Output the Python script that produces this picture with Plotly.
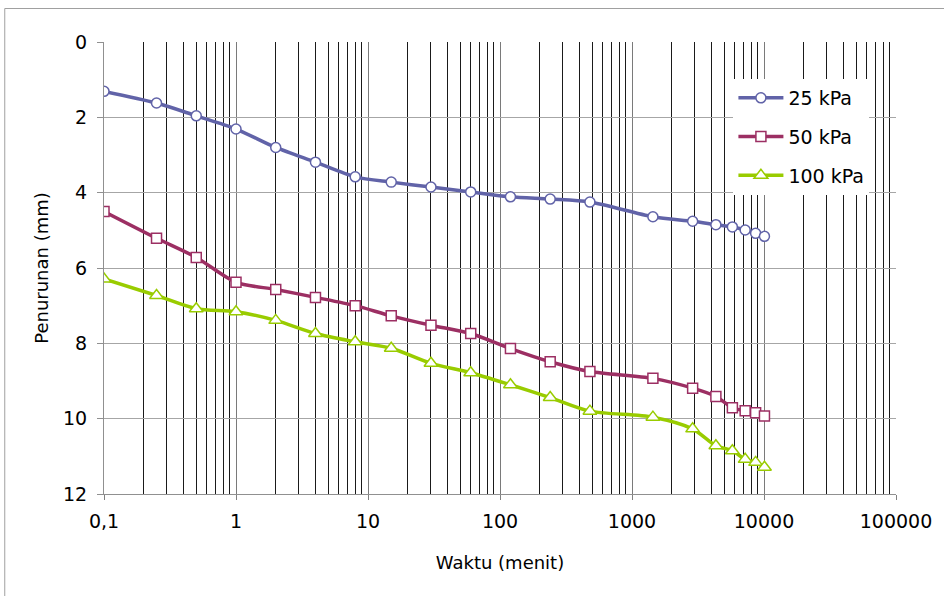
import plotly.graph_objects as go

waktu = [0.1, 0.25, 0.5, 1, 2, 4, 8, 15, 30, 60, 120, 240, 480, 1440, 2880, 4320, 5760, 7200, 8640, 10080]
s25 = [1.31, 1.62, 1.96, 2.31, 2.80, 3.19, 3.58, 3.72, 3.85, 3.98, 4.11, 4.17, 4.25, 4.64, 4.76, 4.85, 4.91, 4.99, 5.08, 5.16]
s50 = [4.50, 5.21, 5.72, 6.38, 6.57, 6.78, 7.00, 7.27, 7.52, 7.74, 8.14, 8.49, 8.75, 8.93, 9.19, 9.41, 9.71, 9.79, 9.84, 9.93]
s100 = [6.29, 6.73, 7.08, 7.16, 7.39, 7.74, 7.96, 8.13, 8.53, 8.78, 9.10, 9.44, 9.80, 9.96, 10.27, 10.72, 10.85, 11.08, 11.16, 11.29]

names = ["25 kPa", "50 kPa", "100 kPa"]
colors = ["#6163a8", "#9c2f63", "#99cc00"]
symbols = ["circle", "square", "triangle-up"]
msizes = [10, 10, 12]

major_vals = [0.1, 1, 10, 100, 1000, 10000, 100000]
major_text = ["0,1", "1", "10", "100", "1000", "10000", "100000"]
minor_vals = [m * d for d in [0.1, 1, 10, 100, 1000, 10000] for m in range(2, 10)]
y_ticks = [0, 2, 4, 6, 8, 10, 12]

FONT = "DejaVu Sans"

fig = go.Figure()
for i, ys in enumerate([s25, s50, s100]):
    fig.add_trace(go.Scatter(
        x=waktu, y=ys, name=names[i], mode="lines+markers",
        legendgroup=names[i],
        line=dict(color=colors[i], width=3.5, shape="spline", smoothing=0.8),
        marker=dict(symbol=symbols[i], size=msizes[i], color="white",
                    line=dict(color=colors[i], width=1.5)),
    ))

W, H = 944, 596
L, R, T, B = 104, 46, 42, 102
pw, ph = W - L - R, H - T - B

def px_x(p):
    return (p - L) / pw

def px_y(p):
    return 1 - (p - T) / ph

fig.update_layout(
    width=W, height=H,
    margin=dict(l=L, r=R, t=T, b=B),
    paper_bgcolor="white", plot_bgcolor="white",
    font=dict(family=FONT, size=18, color="black"),
    showlegend=True,
    legend=dict(
        x=px_x(735), y=px_y(79), xanchor="left", yanchor="top",
        bgcolor="white", borderwidth=0,
        font=dict(family=FONT, size=19, color="black"),
        tracegroupgap=11, traceorder="grouped", itemwidth=45,
    ),
    xaxis=dict(
        type="log", range=[-1, 5],
        tickvals=major_vals, ticktext=major_text,
        ticks="outside", ticklen=5, tickcolor="#808080",
        showgrid=True, gridcolor="#7a7a7a", gridwidth=1,
        showline=True, linecolor="#909090", linewidth=1,
        zeroline=False,
        tickfont=dict(family=FONT, size=19),
        ticklabelstandoff=5,
        minor=dict(tickvals=minor_vals, showgrid=True, gridcolor="#1a1a1a",
                   gridwidth=1, ticks=""),
        title=dict(text="Waktu (menit)", font=dict(family=FONT, size=18), standoff=25),
    ),
    yaxis=dict(
        range=[12, 0], tickvals=y_ticks,
        ticks="outside", ticklen=6, tickcolor="#909090",
        showgrid=True, gridcolor="#a6a6a6", gridwidth=1,
        showline=True, linecolor="#909090", linewidth=1,
        zeroline=False,
        tickfont=dict(family=FONT, size=19),
        ticklabelstandoff=6,
        title=dict(text="Penurunan (mm)", font=dict(family=FONT, size=18), standoff=9),
    ),
    shapes=[dict(
        type="rect", xref="paper", yref="paper",
        x0=px_x(4.5), x1=px_x(950), y0=px_y(8.5), y1=px_y(600),
        line=dict(color="#a0a0a0", width=1), fillcolor="rgba(0,0,0,0)",
        layer="below",
    )],
)

fig.write_html("out.html")
